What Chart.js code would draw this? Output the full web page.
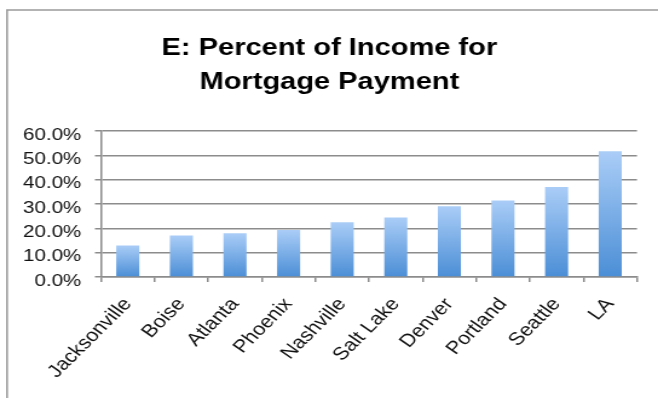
<!DOCTYPE html>
<html>
<head>
<meta charset="utf-8">
<script src="https://cdn.jsdelivr.net/npm/chart.js@4/dist/chart.umd.min.js"></script>
<style>
  html, body { margin: 0; padding: 0; background: #fff; overflow: hidden; }
  /* the chart is laid out narrow and widened, which gives the broad lettering */
  #wrap { width: 544px; height: 398px; transform: scaleX(1.2096); transform-origin: 0 0; }
</style>
</head>
<body>
<div id="wrap"><canvas id="chart"></canvas></div>
<script>
const cities = ['Jacksonville', 'Boise', 'Atlanta', 'Phoenix', 'Nashville',
                'Salt Lake', 'Denver', 'Portland', 'Seattle', 'LA'];
const incomeShare = [13.0, 17.1, 18.0, 19.3, 22.5, 24.5, 29.1, 31.5, 37.0, 51.7];
const titleLines = ['E: Percent of Income for', 'Mortgage Payment'];
const yMax = 60;
const yStep = 10;

const FONT = "'Liberation Sans', Arial, Helvetica, sans-serif";
const GRID = '#8c8c8c';

// vertical gradient running from each bar's top down to the baseline
function barFill(c) {
  const chart = c.chart;
  const ys = chart.scales.y;
  if (!chart.chartArea || !ys || c.raw == null) return '#7aaee8';
  const top = ys.getPixelForValue(c.raw);
  const base = ys.getPixelForValue(0);
  const g = chart.ctx.createLinearGradient(0, top, 0, base);
  g.addColorStop(0, '#aacdf7');
  g.addColorStop(1, '#4b8ed6');
  return g;
}

// outer frame: left and top edges of the chart box
const framePlugin = {
  id: 'frame',
  beforeDraw(chart) {
    const ctx = chart.ctx;
    ctx.save();
    ctx.strokeStyle = '#9a9a9a';
    ctx.lineWidth = 1.6;
    ctx.beginPath();
    ctx.moveTo(5.8, chart.height);
    ctx.lineTo(5.8, 10);
    ctx.lineTo(chart.width, 10);
    ctx.stroke();
    ctx.restore();
  }
};

new Chart(document.getElementById('chart'), {
  type: 'bar',
  data: {
    labels: cities,
    datasets: [{
      data: incomeShare,
      backgroundColor: barFill,
      borderWidth: 0,
      barPercentage: 0.43,
      categoryPercentage: 1
    }]
  },
  options: {
    responsive: true,
    maintainAspectRatio: false,
    animation: false,
    devicePixelRatio: 1,
    layout: { padding: { left: 18, right: 17.4, top: 0, bottom: 0 } },
    plugins: {
      legend: { display: false },
      tooltip: { enabled: false },
      title: {
        display: true,
        text: titleLines,
        color: '#000',
        font: { family: FONT, size: 24, weight: 'bold', lineHeight: 1.42 },
        padding: { top: 31, bottom: 31.9 }
      }
    },
    scales: {
      x: {
        grid: {
          offset: true,
          drawOnChartArea: false,
          drawTicks: true,
          tickLength: 5,
          color: GRID,
          lineWidth: 1.5
        },
        border: { display: true, color: GRID, width: 1.5 },
        ticks: {
          color: '#111',
          font: { family: FONT, size: 18 },
          minRotation: 50,
          maxRotation: 50,
          autoSkip: false,
          padding: 12
        },
        afterFit(scale) { scale.height = 121; }
      },
      y: {
        min: 0,
        max: yMax,
        grid: {
          color: GRID,
          lineWidth: 1.5,
          drawTicks: true,
          tickLength: 5
        },
        border: { display: true, color: GRID, width: 1.5 },
        ticks: {
          stepSize: yStep,
          color: '#111',
          font: { family: FONT, size: 17 },
          padding: 11.3,
          labelOffset: 4,
          callback: v => v.toFixed(1) + '%'
        },
        afterFit(scale) { scale.width = 65.5; }
      }
    }
  },
  plugins: [framePlugin]
});
</script>
</body>
</html>
